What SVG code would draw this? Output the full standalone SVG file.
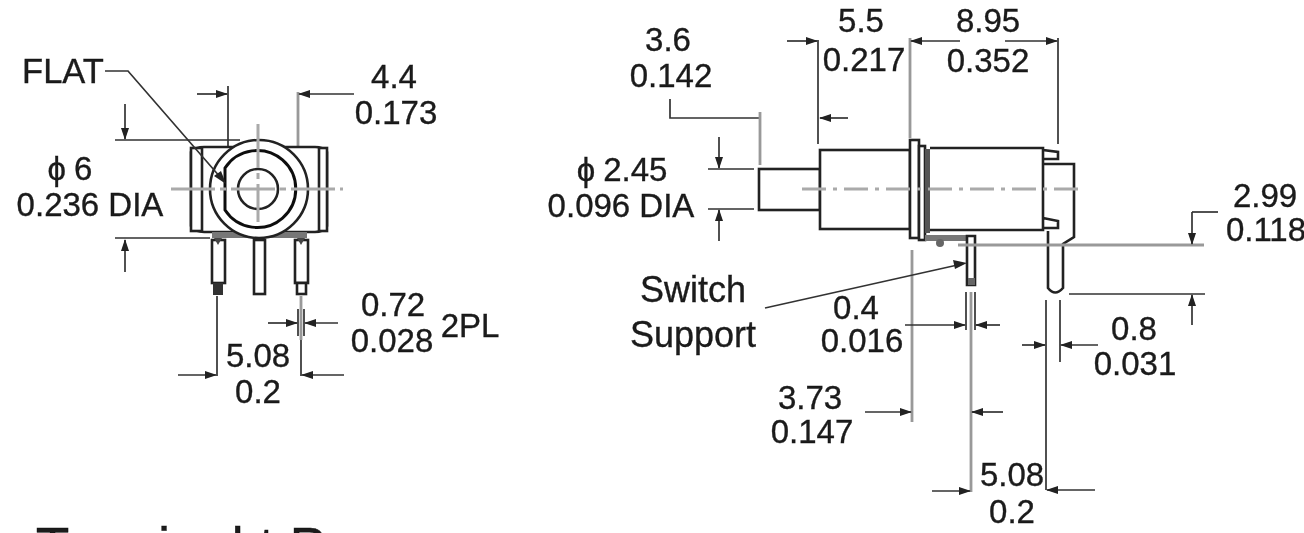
<svg xmlns="http://www.w3.org/2000/svg" width="1304" height="533" viewBox="0 0 1304 533">
<style>
text{font-family:"Liberation Sans",Arial,sans-serif;font-size:33px;fill:#1a1a1a;stroke:#1a1a1a;stroke-width:.35;text-anchor:middle}
.o{fill:none;stroke:#222;stroke-width:2.6}
.w{fill:#fff;stroke:#222;stroke-width:2.6}
.t{fill:none;stroke:#333;stroke-width:1.7}
.g{fill:none;stroke:#999;stroke-width:2.8}
.c{fill:none;stroke:#aaa;stroke-width:3;stroke-dasharray:24 7 4 7}
.a{fill:none;stroke:#333;stroke-width:1.7;marker-end:url(#ah)}
</style>
<defs>
<marker id="ah" markerWidth="12" markerHeight="8" refX="11" refY="4" orient="auto" markerUnits="userSpaceOnUse"><path d="M0 0L12 4L0 8Z" fill="#222"/></marker>
<filter id="soft" x="0" y="0" width="100%" height="100%" filterUnits="userSpaceOnUse"><feGaussianBlur stdDeviation="0.55"/></filter>
</defs>
<g filter="url(#soft)">
<g id="front-view">
<path class="g" d="M298 92V147"/>
<path class="t" d="M228 86V146M115 140H240M115 238H210"/>
<path class="w" d="M204 147H315Q323 147 327 152V226Q323 232 315 232H204Q196 232 191 226V152Q196 147 204 147Z"/>
<rect class="w" x="191" y="148" width="11" height="83"/>
<rect class="w" x="319" y="148" width="8" height="83"/>
<rect x="212" y="232" width="95" height="6" fill="#777"/>
<rect class="w" x="212" y="240" width="13" height="43"/>
<rect class="w" x="254" y="240" width="11" height="54"/>
<rect class="w" x="295" y="240" width="13" height="43"/>
<rect x="213" y="283" width="10" height="12" fill="#333"/>
<rect class="w" x="297" y="283" width="9" height="11"/>
<path d="M214 238L218 245L222 238ZM297 238L301 245L305 238Z" fill="#444"/>
<circle class="w" cx="259" cy="189" r="49"/>
<path d="M225 168A38.500 38.500 0 1 1 225 210Z" fill="#fff" stroke="#111" stroke-width="3"/>
<circle class="o" cx="258" cy="189" r="20"/>
<path d="M171 189H343M258 124V222" fill="none" stroke="#aaa" stroke-width="3" stroke-dasharray="44 5 6 5"/>
</g>

<g id="side-view">
<rect class="w" x="759" y="169" width="61" height="41"/>
<rect class="w" x="820" y="150" width="90" height="79"/>
<rect class="w" x="910" y="140" width="9" height="98"/>
<rect class="w" x="919" y="146" width="6" height="94"/>
<rect x="925" y="149" width="5" height="84" fill="#555"/>
<path class="o" d="M930 148H1043V230H930M1043 150L1058 152V159H1043M1043 218L1058 221V228H1043"/>
<path class="o" d="M1043 164H1074V237L1063 244V288Q1055 297 1048 288V231"/>
<rect x="925" y="235" width="48" height="6" fill="#777"/>
<circle cx="940" cy="243" r="4" fill="#666"/>
<path class="w" d="M967 236H975V285H967Z"/>
<rect x="968" y="278" width="7" height="7" fill="#666"/>
<path class="c" d="M802 189H1080"/>
</g>

<g id="connectors">
<path class="t" d="M105 71H128L221 178"/><path d="M214 176L226 184L221 171Z" fill="#222"/>
<path class="a" d="M197 94H227"/>
<path class="a" d="M354 94H299"/>
<path class="a" d="M125 104V139"/>
<path class="a" d="M125 272V240"/>
<path class="t" d="M217 296V376M301 296V376M298 309V336M304 309V336"/>
<path class="g" d="M301 296V340"/>
<path class="a" d="M178 375H216"/><path class="a" d="M344 375H302"/>
<path class="a" d="M268 323H297"/><path class="a" d="M338 323H305"/>

<path class="t" d="M670 99V118H760"/>
<path class="g" d="M760 112V165"/>
<path class="t" d="M818 40V144"/>
<path class="a" d="M787 41H817"/>
<path class="a" d="M848 118H820"/>
<path class="g" d="M910 38V138"/>
<path class="t" d="M1058 38V144"/>
<path class="a" d="M960 41H911"/><path class="a" d="M1005 41H1057"/>
<path class="t" d="M708 169H754M708 209H754"/>
<path class="a" d="M719 137V168"/><path class="a" d="M719 241V210"/>
<path class="g" d="M958 245H1204"/>
<path class="a" d="M1192 212V244"/><path class="t" d="M1192 212H1218"/>
<path class="t" d="M1069 294H1205"/>
<path class="a" d="M1192 325V295"/>
<path class="t" d="M1046 300V490M1060 300V362"/>
<path class="a" d="M1022 345H1045"/><path class="a" d="M1098 345H1061"/>
<path class="g" d="M912 250V422M971 292V492"/>
<path class="t" d="M966 292V330M975 292V330"/>
<path class="a" d="M905 325H965"/><path class="a" d="M1000 325H976"/>
<path class="a" d="M865 412H911"/><path class="a" d="M1003 412H972"/>
<path class="a" d="M932 491H970"/><path class="a" d="M1095 490H1047"/>
<path class="t" d="M765 308L962 264"/><path d="M953 260L967 263L955 269Z" fill="#222"/>
</g>

<g id="labels">
<text x="63" y="83" style="font-size:34.500px">FLAT</text>
<text x="394" y="88">4.4</text><text x="396" y="124">0.173</text>
<text x="70" y="180"><tspan style="letter-spacing:8px">ϕ</tspan>6</text><text x="90" y="216">0.236 DIA</text>
<text x="393" y="316">0.72</text><text x="392" y="352">0.028</text><text x="470" y="337" style="font-size:33px">2PL</text>
<text x="258" y="367">5.08</text><text x="258" y="403">0.2</text>
<text x="668" y="51">3.6</text><text x="671" y="87">0.142</text>
<text x="861" y="32">5.5</text><text x="864" y="71">0.217</text>
<text x="988" y="32">8.95</text><text x="988" y="72">0.352</text>
<text x="622" y="181"><tspan style="letter-spacing:8px">ϕ</tspan>2.45</text><text x="621" y="217">0.096 DIA</text>
<text x="1265" y="207">2.99</text><text x="1266" y="241">0.118</text>
<text x="693" y="302" style="font-size:36px">Switch</text><text x="693" y="347" style="font-size:36px">Support</text>
<text x="856" y="319">0.4</text><text x="862" y="352">0.016</text>
<text x="1134" y="340">0.8</text><text x="1135" y="375">0.031</text>
<text x="810" y="409">3.73</text><text x="812" y="443">0.147</text>
<text x="1012" y="486">5.08</text><text x="1012" y="523">0.2</text>
<text x="181" y="566" style="font-size:55px">Terminal t P</text>
</g>
</g>
</svg>
